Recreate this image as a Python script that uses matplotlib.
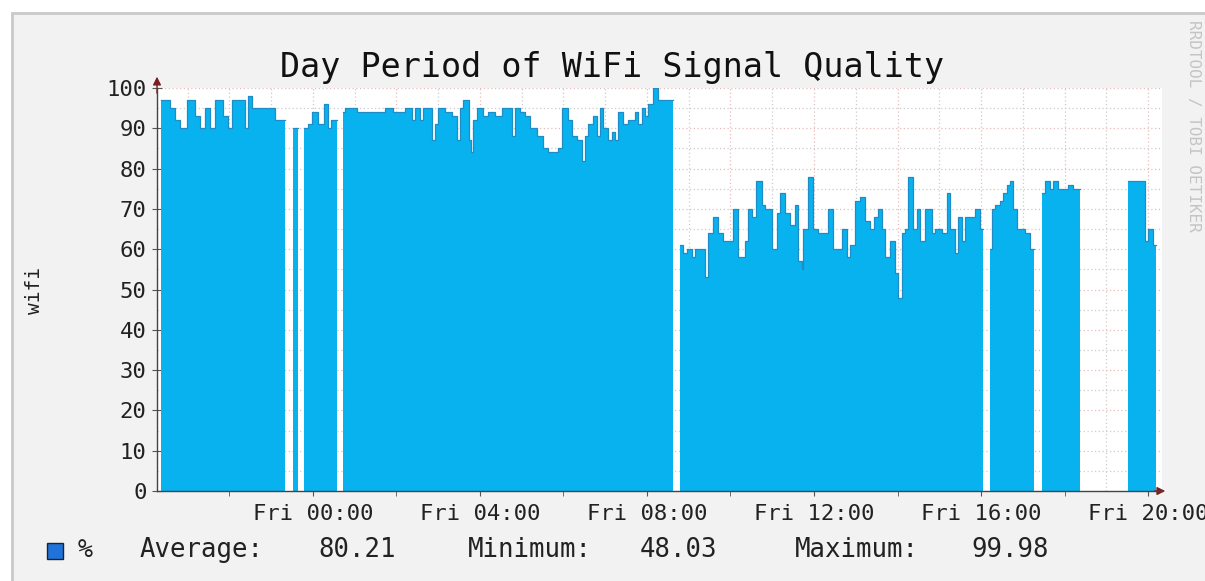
"""Recreate an RRDtool-style day graph of WiFi signal quality."""

import numpy as np
import matplotlib

matplotlib.use("Agg")
import matplotlib.pyplot as plt
from matplotlib.patches import Rectangle

# Step data: start of each sample period in minutes after Thu 20:00,
# and the signal quality (%) for that period. NaN marks missing data.
time_min = [
    22, 34, 42, 49, 59, 70, 78, 85, 92, 99, 111, 118, 124, 142, 147, 152, 185,
    200, 211, 218, 227, 233, 239, 247, 256, 262, 266, 274,
    283, 286, 303, 343, 355, 372, 382, 387, 394, 398, 411, 415, 420, 430, 440,
    447, 451, 456, 464, 467, 470, 476, 484, 492, 502, 512, 526, 530, 538, 545,
    552, 562, 571, 578, 592, 598, 606, 612, 619, 627, 631, 635, 642, 648, 652,
    657, 664, 670, 674, 678, 685, 693, 703, 707, 713, 717, 721, 729, 736, 757,
    767, 772, 777, 785, 789, 803, 808, 815, 822, 829, 844, 851, 861, 865, 871,
    877, 885, 890, 900, 907, 911, 918, 925, 933, 937, 943, 944, 951, 959, 966,
    980, 987, 1000, 1007, 1012, 1019, 1026, 1033, 1040, 1046, 1052, 1058, 1062,
    1069, 1076, 1081, 1086, 1091, 1095, 1102, 1108, 1112, 1120, 1130, 1134,
    1144, 1151, 1155, 1163, 1167, 1173, 1177, 1191, 1199, 1203,
    1213, 1216, 1220, 1227, 1232, 1237, 1242, 1246, 1252, 1263, 1270, 1276,
    1288, 1292, 1299, 1303, 1311, 1325, 1332, 1342,
    1411, 1436, 1440, 1447,
]
wifi_pct = [
    97, 95, 92, 90, 97, 93, 90, 95, 90, 97, 93, 90, 97, 90, 98, 95, 92,
    np.nan, 90, np.nan, 90, 91, 94, 91, 96, 90, 92, np.nan,
    94, 95, 94, 95, 94, 95, 92, 95, 92, 95, 87, 91, 95, 94, 93,
    87, 95, 97, 87, 84, 92, 95, 93, 94, 93, 95, 88, 95, 94, 93,
    90, 88, 85, 84, 85, 95, 92, 88, 87, 82, 88, 91, 93, 88, 95,
    90, 87, 89, 87, 94, 91, 92, 94, 91, 95, 93, 96, 100, 97, np.nan,
    61, 59, 60, 58, 60, 53, 64, 68, 64, 62, 70, 58, 62, 70, 68,
    77, 71, 70, 60, 69, 74, 69, 66, 71, 57, 55, 65, 78, 65, 64,
    70, 60, 65, 58, 61, 72, 73, 67, 65, 68, 70, 65, 58,
    62, 54, 48, 64, 65, 78, 65, 70, 62, 70, 64, 65,
    64, 74, 65, 59, 68, 62, 68, 70, 65, np.nan,
    60, 70, 71, 72, 74, 76, 77, 70, 65, 64, 60, np.nan,
    74, 77, 75, 77, 75, 76, 75, np.nan,
    77, 62, 65, 61,
]
data_end_min = 1451

tick_min = [240, 480, 720, 960, 1200, 1440]
tick_labels = ["Fri 00:00", "Fri 04:00", "Fri 08:00", "Fri 12:00", "Fri 16:00", "Fri 20:00"]
y_ticks = list(range(0, 101, 10))

legend_items = ["Average:", "80.21", "Minimum:", "48.03", "Maximum:", "99.98"]

MONO = "DejaVu Sans Mono"
FILL = "#08b2ef"
EDGE = "#1f8cc6"


def step_points(starts, values, end):
    edges = list(starts) + [end]
    xs, ys = [], []
    for i, v in enumerate(values):
        xs += [edges[i], edges[i + 1]]
        ys += [v, v]
    return np.array(xs, dtype=float), np.array(ys, dtype=float)


def main() -> None:
    W, H = 1205, 581
    fig = plt.figure(figsize=(W / 100, H / 100), dpi=100, facecolor="white")

    # light gray canvas with border, as RRDtool draws it
    fig.patches.append(Rectangle((12 / W, -0.05), 1.1, (H - 13) / H + 0.05,
                                 transform=fig.transFigure, facecolor="#f2f2f2",
                                 edgecolor="#c9c9c9", lw=2, zorder=-5))

    ax = fig.add_axes([157 / W, (H - 491) / H, (1162 - 157) / W, (491 - 88) / H])
    ax.set_facecolor("white")
    ax.set_zorder(1)

    xs, ys = step_points(time_min, wifi_pct, data_end_min)
    ax.fill_between(xs, 0, ys, color=FILL, lw=0, zorder=2)
    ax.plot(xs, ys, color=EDGE, lw=0.9, zorder=3)

    ax.set_xlim(16, 1460)
    ax.set_ylim(0, 100)

    # grid: hourly gray, every 2h red; y every 5 gray, every 10 red
    for m in range(60, 1460, 60):
        col = "#e6bcbc" if m % 120 == 0 else "#cccccc"
        ax.axvline(m, color=col, ls=(0, (1, 2)), lw=0.9, zorder=1)
    for v in range(5, 101, 5):
        col = "#e6bcbc" if v % 10 == 0 else "#cccccc"
        ax.axhline(v, color=col, ls=(0, (1, 2)), lw=0.9, zorder=1)

    for side in ("top", "right"):
        ax.spines[side].set_visible(False)
    for side in ("left", "bottom"):
        ax.spines[side].set_color("#444444")
        ax.spines[side].set_linewidth(1.0)
        ax.spines[side].set_zorder(4)

    ax.set_xticks(tick_min)
    ax.set_xticklabels(tick_labels, family=MONO, fontsize=16)
    ax.set_xticks(range(120, 1460, 120), minor=True)
    ax.set_yticks(y_ticks)
    ax.set_yticklabels([str(v) for v in y_ticks], family=MONO, fontsize=16)
    ax.tick_params(axis="both", which="both", direction="inout", length=7,
                   color="#555555", labelcolor="#222222")
    ax.tick_params(axis="x", pad=6)
    ax.tick_params(axis="y", pad=4)

    # axis arrows
    ax.annotate("", xy=(0, 1.035), xytext=(0, 0.98), xycoords="axes fraction",
                arrowprops=dict(arrowstyle="-|>", color="#7a1f1f", lw=1.0,
                                mutation_scale=12))
    ax.annotate("", xy=(1.006, 0), xytext=(0.99, 0), xycoords="axes fraction",
                arrowprops=dict(arrowstyle="-|>", color="#7a1f1f", lw=1.0,
                                mutation_scale=12))

    fig.text(612 / W, 1 - 67 / H, "Day Period of WiFi Signal Quality",
             ha="center", va="center", family=MONO, fontsize=24, color="#111111")
    fig.text(35 / W, 1 - 290 / H, "wifi", rotation=90, ha="center", va="center",
             family=MONO, fontsize=14, color="#222222")
    fig.text(1193 / W, 1 - 20 / H, "RRDTOOL / TOBI OETIKER", rotation=-90,
             ha="center", va="top", family=MONO, fontsize=11.5, color="#c4c4c4")

    # legend row
    fig.patches.append(Rectangle((47 / W, 1 - 559 / H), 16 / W, 16 / H,
                                 transform=fig.transFigure, facecolor="#1f74dc",
                                 edgecolor="#222222", lw=1))
    fig.text(78 / W, 1 - 550 / H, "%", ha="left", va="center", family=MONO,
             fontsize=18, color="#222222")
    starts = [140, 318, 468, 640, 795, 971]
    for x, label in zip(starts, legend_items):
        fig.text(x / W, 1 - 550 / H, label, ha="left", va="center", family=MONO,
                 fontsize=18.5, color="#222222")

    fig.savefig("out.png", dpi=100, facecolor=fig.get_facecolor())
    plt.close(fig)


if __name__ == "__main__":
    main()
